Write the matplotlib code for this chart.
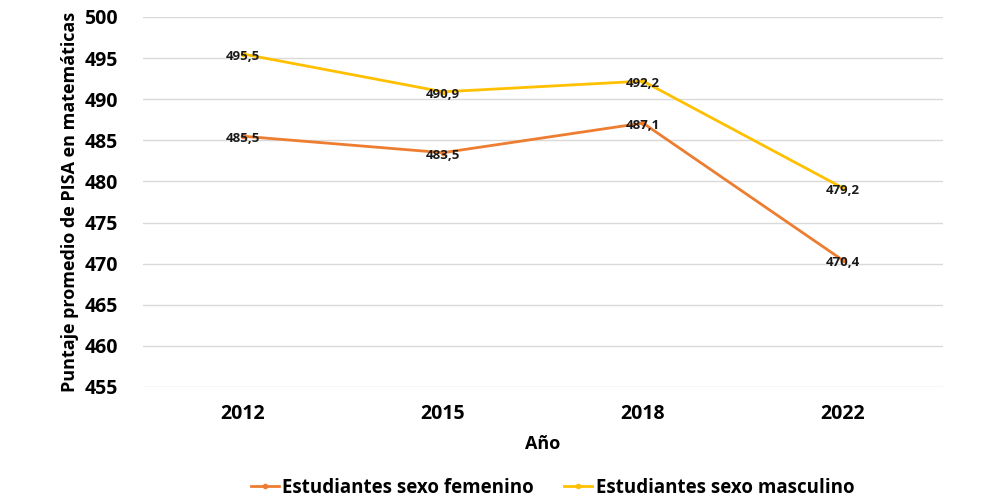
import matplotlib.pyplot as plt

years = ["2012", "2015", "2018", "2022"]
femenino = [485.5, 483.5, 487.1, 470.4]
masculino = [495.5, 490.9, 492.2, 479.2]
yticks = list(range(455, 501, 5))

plt.rcParams['font.family'] = ['Open Sans', 'DejaVu Sans']
plt.rcParams['font.weight'] = 'bold'

fig = plt.figure(figsize=(10, 5), dpi=100)
ax = fig.add_axes([0.143, 0.226, 0.8, 0.74])

x = range(len(years))
ax.plot(x, femenino, color="#ED7D31", lw=2, marker="o", ms=3, label="Estudiantes sexo femenino", zorder=3)
ax.plot(x, masculino, color="#FFC000", lw=2, marker="o", ms=3, label="Estudiantes sexo masculino", zorder=3)

for serie in (femenino, masculino):
    for i, v in enumerate(serie):
        ax.text(i, v - 0.3, f"{v:.1f}".replace(".", ","), ha="center", va="center",
                fontsize=9.5, fontweight="bold", color="#1a1a1a", zorder=4)

ax.set_xlim(-0.5, 3.5)
ax.set_ylim(455, 500)
ax.set_xticks(list(x))
ax.set_xticklabels(years)
ax.set_yticks(yticks)
ax.tick_params(axis="both", length=0, labelsize=14)
ax.tick_params(axis="x", pad=12)
ax.tick_params(axis="y", pad=18)
for lab in ax.get_xticklabels() + ax.get_yticklabels():
    lab.set_fontweight("bold")
ax.grid(axis="y", color="#d9d9d9", lw=1)
ax.set_axisbelow(True)
for s in ax.spines.values():
    s.set_visible(False)

ax.set_xlabel("Año", fontsize=13, fontweight="bold", labelpad=8)
ax.set_ylabel("Puntaje promedio de PISA en matemáticas", fontsize=13, fontweight="bold", labelpad=4)

ax.legend(loc="upper center", bbox_to_anchor=(0.512, -0.2), ncol=2, frameon=False,
          prop={"size": 13.5, "weight": "bold"}, handlelength=1.5, columnspacing=1.6, handletextpad=0.2)

fig.savefig("out.png")
